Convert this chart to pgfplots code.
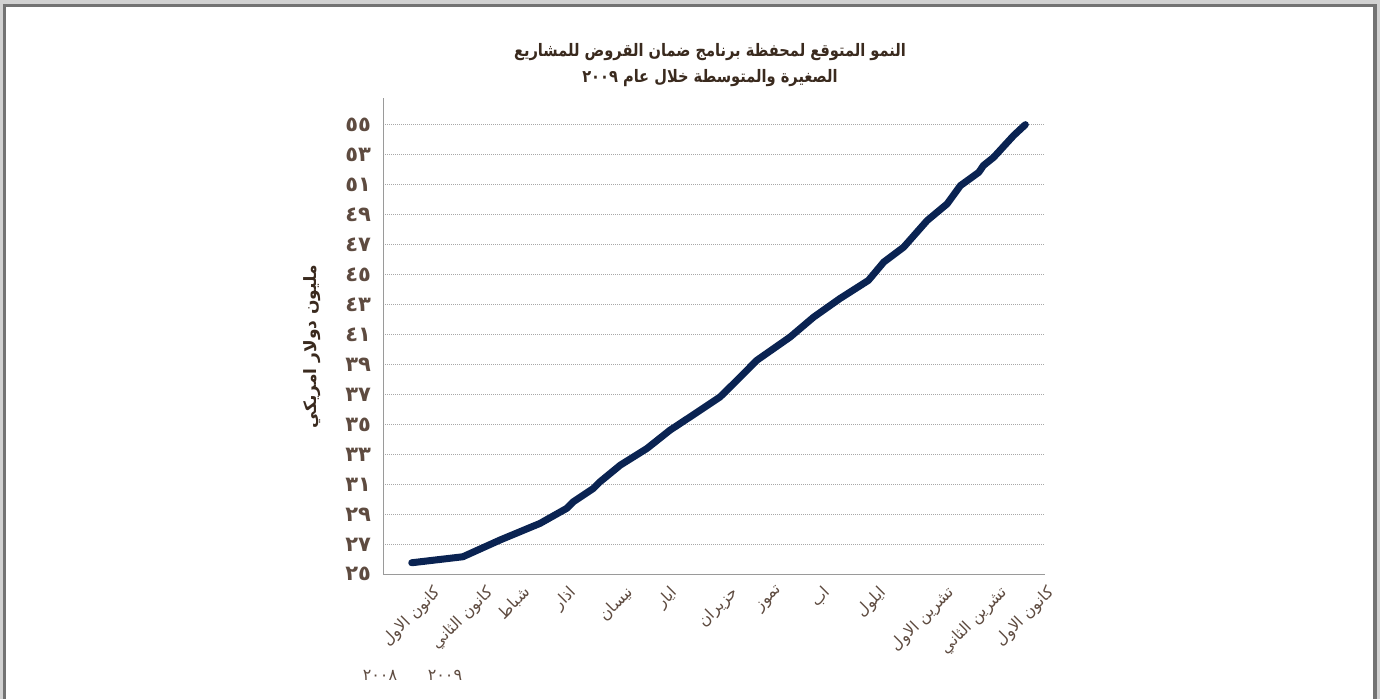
\documentclass[border=0pt]{standalone}
\usepackage{fontspec}
\usepackage{graphicx}
\usepackage{pgfplots}
\pgfplotsset{compat=1.18}
\TeXXeTstate=1
\newfontfamily\arabicfont[Script=Arabic]{DejaVu Sans}
\definecolor{linecol}{HTML}{0A2352}
\definecolor{titlecol}{HTML}{3A2A1E}
\definecolor{tickcol}{HTML}{5E4B40}
\definecolor{gridcol}{HTML}{A8A8A8}
\definecolor{axiscol}{HTML}{9A9A9A}
\begin{document}
\begin{tikzpicture}
\useasboundingbox (-191.65pt,-62.35pt) rectangle (498.35pt,287.15pt);
% outer frame
\draw[line width=4pt, color=gray!35] (-190.4pt,-70pt) -- (-190.4pt,285.4pt) -- (496.8pt,285.4pt) -- (496.8pt,-70pt);
\draw[line width=1.6pt, color=gray!90!black] (-189.4pt,-70pt) -- (-189.4pt,284.4pt) -- (495.8pt,284.4pt) -- (495.8pt,-70pt);
\begin{axis}[
  at={(0,0)}, anchor=south west,
  scale only axis,
  width=331pt, height=238pt,
  xmin=-0.556, xmax=12.39,
  ymin=25, ymax=56.78,
  axis lines*=left,
  axis line style={color=axiscol, line width=0.7pt},
  ytick={25,27,...,55},
  yticklabels={٢٥,٢٧,٢٩,٣١,٣٣,٣٥,٣٧,٣٩,٤١,٤٣,٤٥,٤٧,٤٩,٥١,٥٣,٥٥},
  xtick={0,...,12},
  xticklabels={
    {\rotatebox{45}{\beginR كانون الاول\endR}},
    {\rotatebox{45}{\beginR كانون الثاني\endR}},
    {\rotatebox{45}{\beginR شباط\endR}},
    {\rotatebox{45}{\beginR اذار\endR}},
    {\rotatebox{45}{\beginR نيسان\endR}},
    {\rotatebox{45}{\beginR ايار\endR}},
    {\rotatebox{45}{\beginR حزيران\endR}},
    {\rotatebox{45}{\beginR تموز\endR}},
    {\rotatebox{45}{\beginR اب\endR}},
    {\rotatebox{45}{\beginR ايلول\endR}},
    {\rotatebox{45}{\beginR تشرين الاول\endR}},
    {\rotatebox{45}{\beginR تشرين الثاني\endR}},
    {\rotatebox{45}{\beginR كانون الاول\endR}}},
  major tick length=0pt,
  xticklabel style={font=\arabicfont\fontsize{8pt}{9.5pt}\selectfont, color=tickcol, anchor=north, inner sep=0pt, yshift=-5pt},
  yticklabel style={font=\arabicfont\bfseries\fontsize{10.5pt}{12pt}\selectfont, color=tickcol, anchor=east, inner sep=0pt, xshift=-6pt},
  ymajorgrids,
  grid style={color=gridcol, line width=0.5pt, dash pattern=on 0.5pt off 0.5pt},
  clip=false,
]
\addplot[color=linecol, line width=3.5pt, line join=round, line cap=round] coordinates {
(0,25.77) (1,26.17) (1.728,27.29) (2.51,28.4) (3.03,29.4) (3.16,29.84)
(3.55,30.73) (3.68,31.17) (4.08,32.29) (4.60,33.4) (5.05,34.62) (5.64,35.95)
(6.03,36.84) (6.36,37.95) (6.75,39.29) (7.40,40.84) (7.86,42.17) (8.37,43.4)
(8.93,44.62) (9.23,45.84) (9.62,46.84) (10.08,48.62) (10.47,49.73) (10.73,50.95)
(11.09,51.84) (11.18,52.29) (11.38,52.84) (11.77,54.29) (12,55.02)
};
\end{axis}
\node[font=\arabicfont\bfseries\fontsize{8.6pt}{11pt}\selectfont, color=titlecol] at (163.35pt,261.15pt) {\scalebox{0.85}[1]{\beginR النمو المتوقع لمحفظة برنامج ضمان القروض للمشاريع\endR}};
\node[font=\arabicfont\bfseries\fontsize{8.6pt}{11pt}\selectfont, color=titlecol] at (163.35pt,248.15pt) {\scalebox{0.85}[1]{\beginR الصغيرة والمتوسطة خلال عام ٢٠٠٩\endR}};
\node[font=\arabicfont\bfseries\fontsize{8.5pt}{10pt}\selectfont, color=titlecol, rotate=90] at (-35.65pt,113.65pt) {\beginR مليون دولار امريكي\endR};
\node[font=\arabicfont\fontsize{8pt}{10pt}\selectfont, color=tickcol] at (-1.65pt,-50.35pt) {٢٠٠٨};
\node[font=\arabicfont\fontsize{8pt}{10pt}\selectfont, color=tickcol] at (30.85pt,-50.35pt) {٢٠٠٩};
\end{tikzpicture}
\end{document}
